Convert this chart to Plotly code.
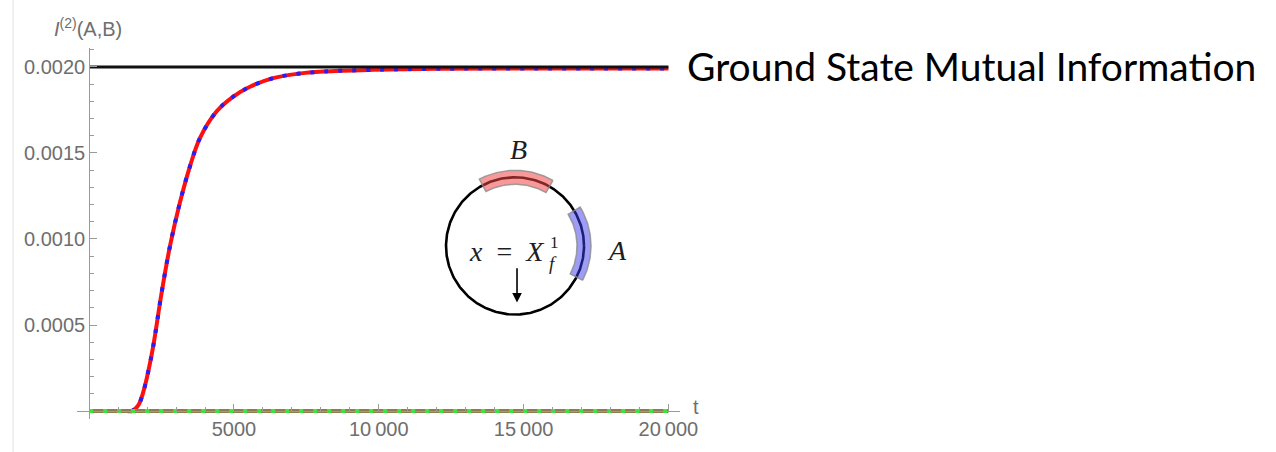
import numpy as np
import plotly.graph_objects as go

# Second Renyi mutual information I^(2)(A,B) versus time t
t_vals = [0, 1000, 1300, 1470, 1700, 1874, 2050, 2218, 2506, 2793, 3138, 3483,
          3828, 4403, 4976, 5552, 6355, 7200, 8080, 9803, 12000, 15000, 20000]
mi_vals = [0, 0, 0, 0, 0.000035, 0.000114, 0.000237, 0.000383, 0.000692, 0.000961,
           0.001215, 0.001424, 0.001588, 0.001742, 0.001828, 0.001885, 0.001935,
           0.001960, 0.001973, 0.001983, 0.001989, 0.001991, 0.001991]

# Ground-state value and the vanishing reference curve
ground_state_mi = 0.0020
t_span = [0, 20000]
zero_vals = [0, 0]

# Tick positions and labels
x_tick_vals = [5000, 10000, 15000, 20000]
x_tick_text = ["5000", "10\u2009000", "15\u2009000", "20\u2009000"]
y_tick_vals = [0.0005, 0.0010, 0.0015, 0.0020]
y_tick_text = ["0.0005", "0.0010", "0.0015", "0.0020"]

X_RANGE = [-420, 20400]
Y_RANGE = [-0.0000462, 0.00211]

AXIS_GRAY = "#9a9a9a"
LABEL_GRAY = "#6e6e6e"
LABEL_FONT = dict(family="Liberation Sans, Arial, sans-serif", size=20, color=LABEL_GRAY)

fig = go.Figure()

# Main curve: red solid with blue dashes over it
fig.add_trace(go.Scatter(x=t_vals, y=mi_vals, mode="lines",
                         line=dict(color="#ff1010", width=4, shape="spline", smoothing=1.0),
                         hoverinfo="skip", showlegend=False))
fig.add_trace(go.Scatter(x=t_vals, y=mi_vals, mode="lines",
                         line=dict(color="#2020ff", width=4, dash="4px,10px",
                                   shape="spline", smoothing=1.0),
                         hoverinfo="skip", showlegend=False))

# Zero curve: olive solid with green dashes
fig.add_trace(go.Scatter(x=t_span, y=zero_vals, mode="lines",
                         line=dict(color="#8c7d4f", width=4),
                         hoverinfo="skip", showlegend=False))
fig.add_trace(go.Scatter(x=t_span, y=zero_vals, mode="lines",
                         line=dict(color="#3ee83e", width=4, dash="4px,10px"),
                         hoverinfo="skip", showlegend=False))

# Ground-state reference line
fig.add_trace(go.Scatter(x=t_span, y=[ground_state_mi, ground_state_mi], mode="lines",
                         line=dict(color="#111111", width=3),
                         hoverinfo="skip", showlegend=False))

# ---- inset: circle with intervals A and B (pixel-like units, 1 unit = 1 px) ----
R = 69.0
th = np.linspace(0, 2 * np.pi, 400)
fig.add_trace(go.Scatter(x=R * np.cos(th), y=R * np.sin(th), mode="lines",
                         line=dict(color="black", width=2.6),
                         xaxis="x2", yaxis="y2", hoverinfo="skip", showlegend=False))


def band(deg0, deg1, r_in, r_out):
    a = np.radians(np.linspace(deg0, deg1, 80))
    xs = np.concatenate([r_out * np.cos(a), r_in * np.cos(a[::-1]), [r_out * np.cos(a[0])]])
    ys = np.concatenate([r_out * np.sin(a), r_in * np.sin(a[::-1]), [r_out * np.sin(a[0])]])
    return xs, ys


bx, by = band(60, 118, R - 7, R + 7)
fig.add_trace(go.Scatter(x=bx, y=by, mode="lines", fill="toself",
                         fillcolor="rgba(240,70,70,0.55)",
                         line=dict(color="rgba(140,140,140,0.8)", width=1.5),
                         xaxis="x2", yaxis="y2", hoverinfo="skip", showlegend=False))
ax_, ay_ = band(-27, 31, R - 7, R + 7)
fig.add_trace(go.Scatter(x=ax_, y=ay_, mode="lines", fill="toself",
                         fillcolor="rgba(60,60,235,0.5)",
                         line=dict(color="rgba(140,140,140,0.8)", width=1.5),
                         xaxis="x2", yaxis="y2", hoverinfo="skip", showlegend=False))

SERIF = "Liberation Serif, Times New Roman, serif"
INK = "#1e1e1e"
annotations = [
    dict(x=3, y=97, xref="x2", yref="y2", text="<i>B</i>", showarrow=False,
         xanchor="center", yanchor="middle",
         font=dict(family=SERIF, size=28, color=INK)),
    dict(x=102, y=-5, xref="x2", yref="y2", text="<i>A</i>", showarrow=False,
         xanchor="center", yanchor="middle",
         font=dict(family=SERIF, size=28, color=INK)),
    dict(x=31, y=-6, xref="x2", yref="y2", text="<i>x</i>\u2002=\u2002<i>X</i>",
         showarrow=False, xanchor="right", yanchor="middle",
         font=dict(family=SERIF, size=28, color=INK)),
    dict(x=33, y=3, xref="x2", yref="y2", text="1", showarrow=False,
         xanchor="left", yanchor="middle",
         font=dict(family=SERIF, size=17, color=INK)),
    dict(x=32, y=-18, xref="x2", yref="y2", text="<i>f</i>", showarrow=False,
         xanchor="left", yanchor="middle",
         font=dict(family=SERIF, size=19, color=INK)),
    dict(x=2, y=-57, ax=2, ay=-21, xref="x2", yref="y2", axref="x2", ayref="y2",
         text="", showarrow=True, arrowhead=2, arrowsize=1.2, arrowwidth=1.6,
         arrowcolor="black"),
    # axis labels
    dict(x=0.018, y=1.056, xref="paper", yref="paper", xanchor="center", yanchor="middle",
         text="<i>I</i><sup>(2)</sup>(A,B)", showarrow=False, font=LABEL_FONT),
    dict(x=1.0265, y=0.032, xref="paper", yref="paper", xanchor="center", yanchor="middle",
         text="t", showarrow=False, font=LABEL_FONT),
    # caption for the ground-state line
    dict(x=1.0085, y=0.9517, xref="paper", yref="paper", xanchor="left", yanchor="middle",
         text="Ground State Mutual Information", showarrow=False,
         font=dict(family="Lato, sans-serif", size=39, color="black")),
]

# positions of the data origin within the plot area
x_origin = (0 - X_RANGE[0]) / (X_RANGE[1] - X_RANGE[0])
y_origin = (0 - Y_RANGE[0]) / (Y_RANGE[1] - Y_RANGE[0])

fig.update_layout(
    width=1276, height=452,
    margin=dict(l=77, r=596, t=48, b=31),
    paper_bgcolor="white", plot_bgcolor="rgba(0,0,0,0)",
    showlegend=False,
    xaxis=dict(range=X_RANGE, anchor="free", position=y_origin,
               showgrid=False, zeroline=False, showline=True,
               linecolor=AXIS_GRAY, linewidth=1,
               ticks="inside", ticklen=7, tickcolor=AXIS_GRAY, tickwidth=1,
               tickmode="array", tickvals=x_tick_vals, ticktext=x_tick_text,
               tickfont=LABEL_FONT,
               minor=dict(ticks="inside", ticklen=4, tickcolor=AXIS_GRAY,
                          tick0=0, dtick=1000, showgrid=False)),
    yaxis=dict(range=Y_RANGE, anchor="free", position=x_origin,
               showgrid=False, zeroline=False, showline=True,
               linecolor=AXIS_GRAY, linewidth=1,
               ticks="inside", ticklen=7, tickcolor=AXIS_GRAY, tickwidth=1,
               tickmode="array", tickvals=y_tick_vals, ticktext=y_tick_text,
               tickfont=LABEL_FONT,
               minor=dict(ticks="inside", ticklen=4, tickcolor=AXIS_GRAY,
                          tick0=0, dtick=0.0001, showgrid=False)),
    xaxis2=dict(domain=[0.5191, 0.9337], range=[-125, 125], visible=False,
                anchor="y2", fixedrange=True),
    yaxis2=dict(domain=[0.1314, 0.8016], range=[-125, 125], visible=False,
                anchor="x2", fixedrange=True),
    annotations=annotations,
    shapes=[dict(type="line", xref="paper", yref="paper",
                 x0=-0.106, x1=-0.106, y0=-0.1, y1=1.14,
                 line=dict(color="#e2e2e2", width=1))],
)

fig.write_html("out.html")
